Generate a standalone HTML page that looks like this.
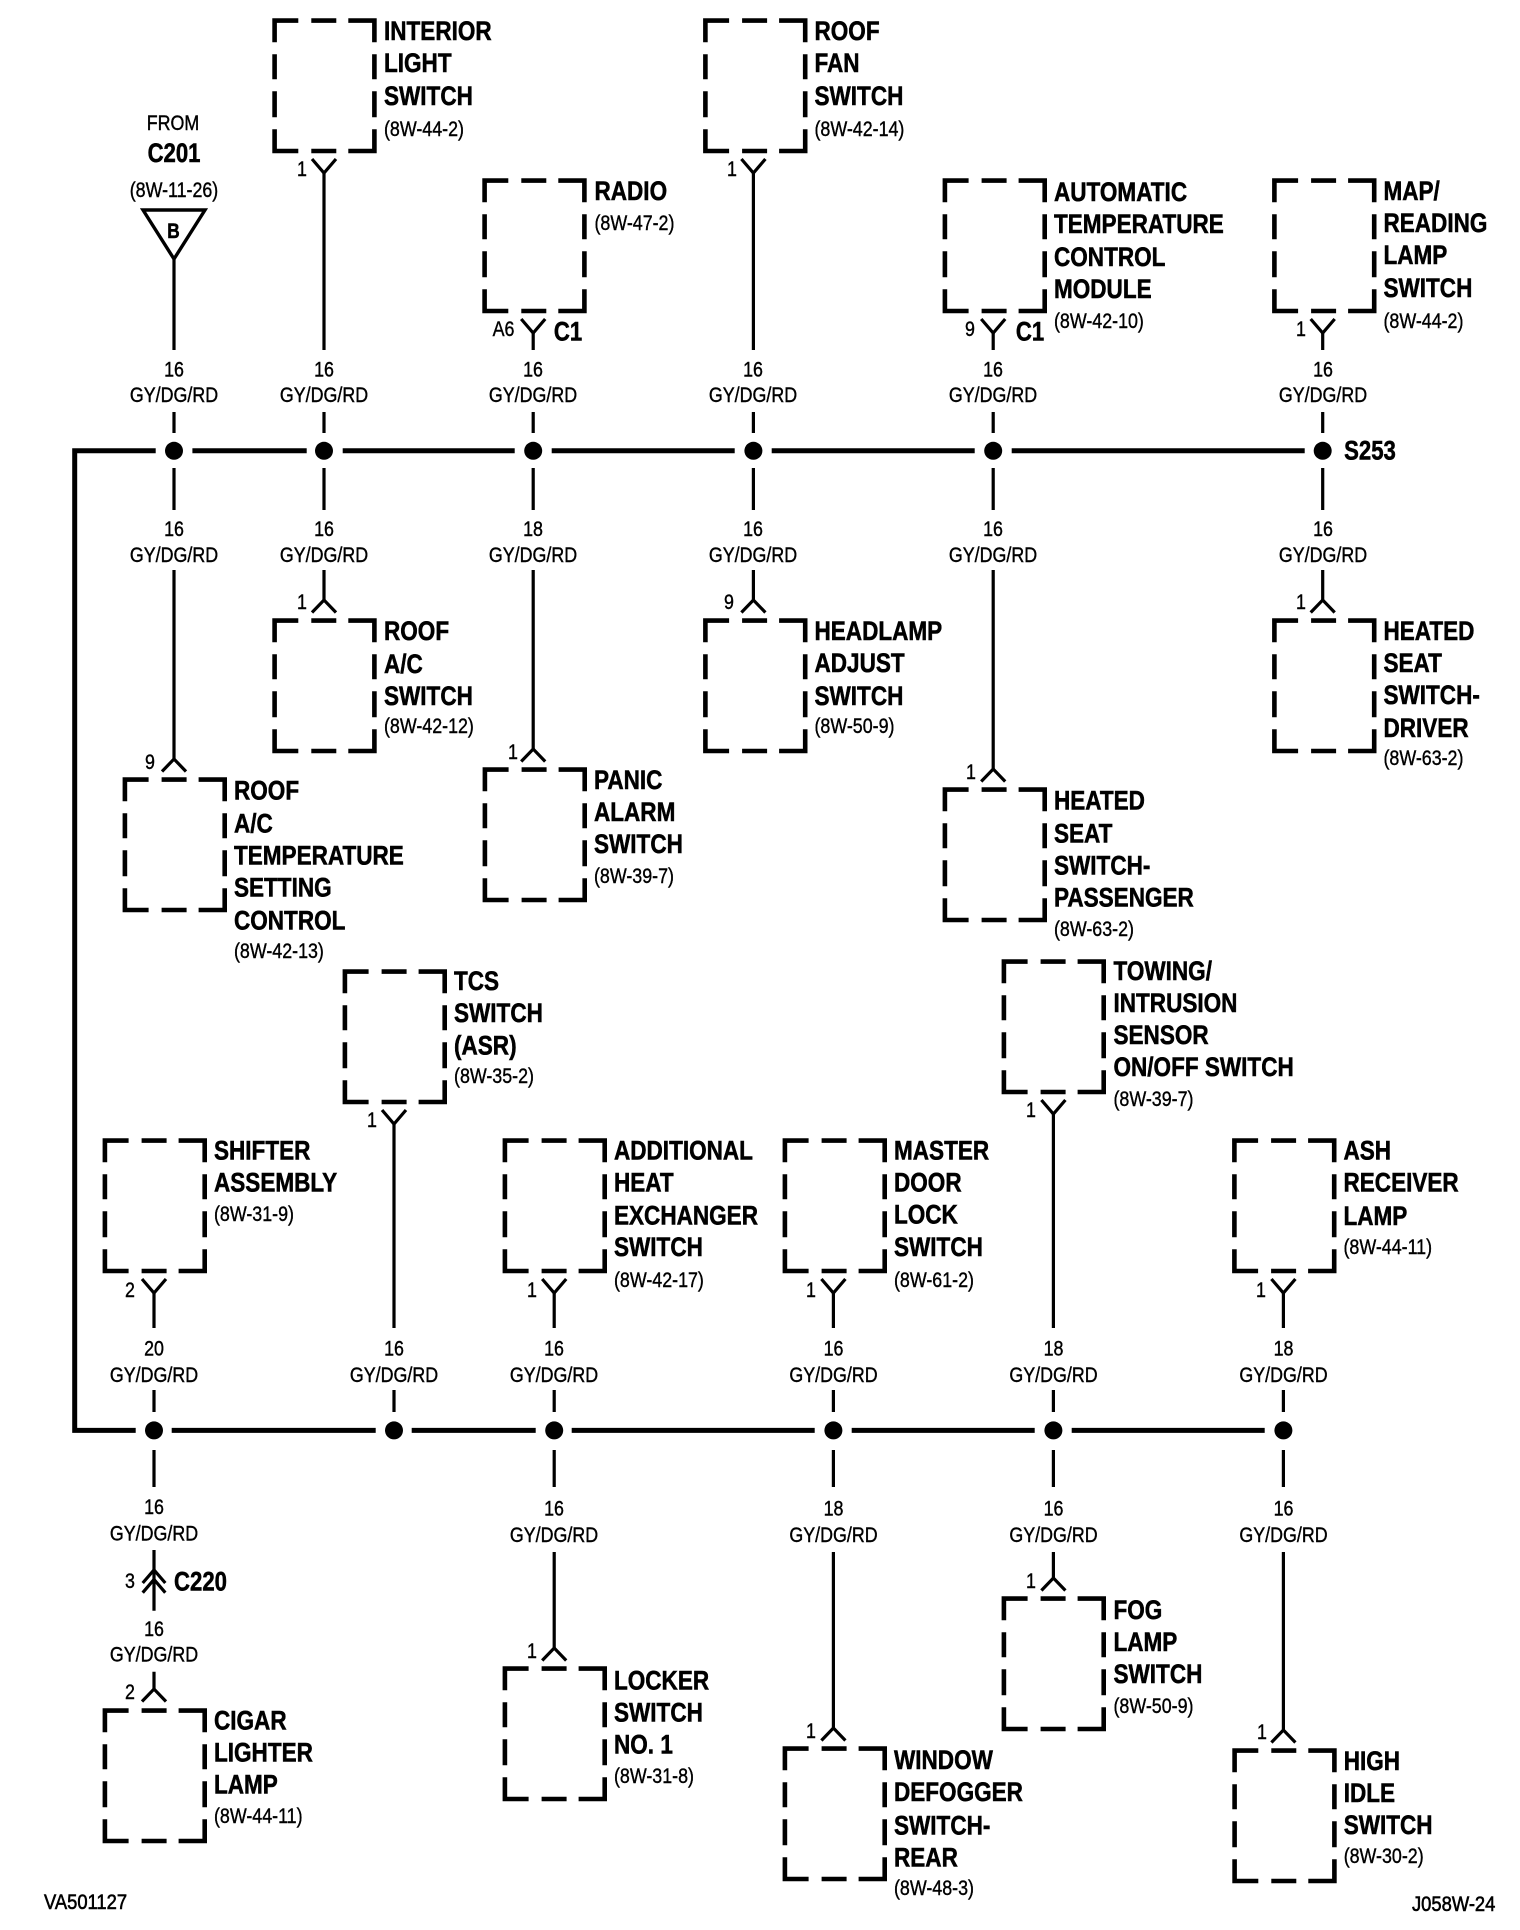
<!DOCTYPE html>
<html><head><meta charset="utf-8"><title>Wiring diagram</title>
<style>
html,body{margin:0;padding:0;background:#fff}
svg{display:block}
text{font-family:"Liberation Sans",sans-serif;fill:#000}
.b{font-size:27px;font-weight:bold;stroke:#000;stroke-width:.55px;transform-box:fill-box;transform-origin:0 50%;transform:translateY(-.8px) scaleX(.835)}
.r{font-size:21px;stroke:#000;stroke-width:.4px;transform-box:fill-box;transform-origin:0 50%;transform:scaleX(.85)}
.c{font-size:21px;text-anchor:middle;stroke:#000;stroke-width:.4px;transform-box:fill-box;transform-origin:50% 50%;transform:scaleX(.85)}
.bc{font-size:27px;font-weight:bold;text-anchor:middle;stroke:#000;stroke-width:.55px;transform-box:fill-box;transform-origin:50% 50%;transform:scaleX(.82)}
</style></head><body>
<svg xmlns="http://www.w3.org/2000/svg" width="1520" height="1930" viewBox="0 0 1520 1930">
<defs>
<path id="box" fill="none" stroke="#000" stroke-width="4.6" d="M2.3 24V2.3H26M39 2.3H64M76 2.3H102.1V24M2.3 36V61M102.1 36V61M2.3 73V99M102.1 73V99M2.3 111V132.7H26M39 132.7H64M76 132.7H102.1V111"/>
<path id="yo" fill="none" stroke="#000" stroke-width="3.2" d="M-12 -14L0 0L12 -14"/>
<path id="yi" fill="none" stroke="#000" stroke-width="3.2" d="M-12 12.5L0 0L12 12.5"/>
</defs>
<rect width="1520" height="1930" fill="#fff"/>

<!-- buses -->
<g transform="translate(.7 .8)">
<g fill="none" stroke="#000" stroke-width="5">
<path d="M155 450H74V1429.6H135"/>
<path d="M191.7 450H306M342 450H514M551 450H734M771 450H974M1011 450H1304"/>
<path d="M171 1429.6H375M411 1429.6H535M571 1429.6H814M851 1429.6H1034M1071 1429.6H1264"/>
</g>
<g fill="#000">
<circle cx="173.3" cy="450" r="9"/><circle cx="323.3" cy="450" r="9"/><circle cx="532.5" cy="450" r="9"/><circle cx="752.7" cy="450" r="9"/><circle cx="992.5" cy="450" r="9"/><circle cx="1322" cy="450" r="9"/>
<circle cx="153.3" cy="1429.6" r="9"/><circle cx="393.3" cy="1429.6" r="9"/><circle cx="553.5" cy="1429.6" r="9"/><circle cx="832.7" cy="1429.6" r="9"/><circle cx="1052.7" cy="1429.6" r="9"/><circle cx="1282.7" cy="1429.6" r="9"/>
</g>
</g>

<!-- wires and connectors -->
<g transform="translate(.7 0)">
<g fill="none" stroke="#000" stroke-width="3.2">
<path d="M173.3 259V350M173.3 412V433M173.3 468V510M173.3 570V759"/>
<path d="M323.3 173V350M323.3 412V433M323.3 468V510M323.3 570V600"/>
<path d="M532.5 333V350M532.5 412V433M532.5 468V510M532.5 570V749"/>
<path d="M752.7 173V350M752.7 412V433M752.7 468V510M752.7 570V600"/>
<path d="M992.5 333V350M992.5 412V433M992.5 468V510M992.5 570V769"/>
<path d="M1322 333V350M1322 412V433M1322 468V510M1322 570V600"/>
<path d="M153.3 1293V1328M153.3 1390V1412M153.3 1450V1487M153.3 1550V1610.7M153.3 1671.7V1689"/>
<path d="M393.3 1124V1328M393.3 1390V1412"/>
<path d="M553.5 1293V1328M553.5 1390V1412M553.5 1450V1487M553.5 1552V1648"/>
<path d="M832.7 1293V1328M832.7 1390V1412M832.7 1450V1487M832.7 1552V1728"/>
<path d="M1052.7 1114V1328M1052.7 1390V1412M1052.7 1450V1487M1052.7 1552V1578"/>
<path d="M1282.7 1293V1328M1282.7 1390V1412M1282.7 1450V1487M1282.7 1552V1730"/>
<path d="M142 1583L153.3 1570L164.6 1583M142 1592.7L153.3 1579.5L164.6 1592.7"/>
</g>
<use href="#yo" x="323.3" y="173"/><use href="#yo" x="532.5" y="333"/><use href="#yo" x="752.7" y="173"/><use href="#yo" x="992.5" y="333"/><use href="#yo" x="1322" y="333"/>
<use href="#yo" x="153.3" y="1293"/><use href="#yo" x="393.3" y="1124"/><use href="#yo" x="553.5" y="1293"/><use href="#yo" x="832.7" y="1293"/><use href="#yo" x="1052.7" y="1114"/><use href="#yo" x="1282.7" y="1293"/>
<use href="#yi" x="173.3" y="759"/><use href="#yi" x="323.3" y="600"/><use href="#yi" x="532.5" y="749"/><use href="#yi" x="752.7" y="600"/><use href="#yi" x="992.5" y="769"/><use href="#yi" x="1322" y="600"/>
<use href="#yi" x="153.3" y="1689"/><use href="#yi" x="553.5" y="1648"/><use href="#yi" x="832.7" y="1728"/><use href="#yi" x="1052.7" y="1578"/><use href="#yi" x="1282.7" y="1730"/>
</g>
<path d="M143 210H205L174 259Z" fill="none" stroke="#000" stroke-width="3.4"/>

<!-- boxes -->
<g transform="translate(-.4 -.7)">
<use href="#box" x="272.7" y="19"/><use href="#box" x="482.7" y="179"/><use href="#box" x="703.5" y="19"/><use href="#box" x="943" y="179"/><use href="#box" x="1272.5" y="179"/>
<use href="#box" x="272.7" y="619"/><use href="#box" x="703.5" y="619"/><use href="#box" x="1272.5" y="619"/><use href="#box" x="123" y="778"/><use href="#box" x="483" y="768"/><use href="#box" x="943" y="788"/>
<use href="#box" x="343" y="970"/><use href="#box" x="1002" y="960"/><use href="#box" x="103" y="1139"/><use href="#box" x="503" y="1139"/><use href="#box" x="783" y="1139"/><use href="#box" x="1232.5" y="1139"/>
<use href="#box" x="103" y="1709"/><use href="#box" x="503" y="1667"/><use href="#box" x="783" y="1747"/><use href="#box" x="1002" y="1597"/><use href="#box" x="1232.7" y="1749"/>
</g>

<!-- source -->
<text class="c" x="173" y="130">FROM</text>
<text class="bc" x="174" y="162">C201</text>
<text class="c" x="174" y="197">(8W-11-26)</text>
<text class="bc" x="173.5" y="238" style="font-size:21px">B</text>
<text class="bc" x="1370" y="459.5">S253</text>
<text class="bc" x="568" y="340.7">C1</text>
<text class="bc" x="1030" y="340.7">C1</text>
<text class="bc" x="200.5" y="1590.7">C220</text>

<!-- pin numbers -->
<text class="c" x="302" y="176">1</text><text class="c" x="503.5" y="336">A6</text><text class="c" x="732" y="176">1</text><text class="c" x="970" y="336">9</text><text class="c" x="1301" y="336">1</text>
<text class="c" x="302" y="609">1</text><text class="c" x="729" y="609">9</text><text class="c" x="1301" y="609">1</text><text class="c" x="150" y="769">9</text><text class="c" x="513" y="759">1</text><text class="c" x="971" y="779">1</text>
<text class="c" x="372" y="1127">1</text><text class="c" x="1031" y="1117">1</text><text class="c" x="130" y="1297">2</text><text class="c" x="532" y="1297">1</text><text class="c" x="811" y="1297">1</text><text class="c" x="1261" y="1297">1</text>
<text class="c" x="130" y="1588">3</text><text class="c" x="130" y="1699">2</text><text class="c" x="532" y="1658">1</text><text class="c" x="811" y="1738">1</text><text class="c" x="1031" y="1588">1</text><text class="c" x="1262" y="1739">1</text>

<!-- wire labels: upper bus, above -->
<text class="c" x="174" y="376.7">16</text><text class="c" x="174" y="402">GY/DG/RD</text>
<text class="c" x="324" y="376.7">16</text><text class="c" x="324" y="402">GY/DG/RD</text>
<text class="c" x="533" y="376.7">16</text><text class="c" x="533" y="402">GY/DG/RD</text>
<text class="c" x="753" y="376.7">16</text><text class="c" x="753" y="402">GY/DG/RD</text>
<text class="c" x="993" y="376.7">16</text><text class="c" x="993" y="402">GY/DG/RD</text>
<text class="c" x="1323" y="376.7">16</text><text class="c" x="1323" y="402">GY/DG/RD</text>
<!-- upper bus, below -->
<text class="c" x="174" y="536">16</text><text class="c" x="174" y="562">GY/DG/RD</text>
<text class="c" x="324" y="536">16</text><text class="c" x="324" y="562">GY/DG/RD</text>
<text class="c" x="533" y="536">18</text><text class="c" x="533" y="562">GY/DG/RD</text>
<text class="c" x="753" y="536">16</text><text class="c" x="753" y="562">GY/DG/RD</text>
<text class="c" x="993" y="536">16</text><text class="c" x="993" y="562">GY/DG/RD</text>
<text class="c" x="1323" y="536">16</text><text class="c" x="1323" y="562">GY/DG/RD</text>
<!-- lower bus, above -->
<text class="c" x="154" y="1355.5">20</text><text class="c" x="154" y="1382">GY/DG/RD</text>
<text class="c" x="394" y="1355.5">16</text><text class="c" x="394" y="1382">GY/DG/RD</text>
<text class="c" x="554" y="1355.5">16</text><text class="c" x="554" y="1382">GY/DG/RD</text>
<text class="c" x="833.5" y="1355.5">16</text><text class="c" x="833.5" y="1382">GY/DG/RD</text>
<text class="c" x="1053.5" y="1355.5">18</text><text class="c" x="1053.5" y="1382">GY/DG/RD</text>
<text class="c" x="1283.5" y="1355.5">18</text><text class="c" x="1283.5" y="1382">GY/DG/RD</text>
<!-- lower bus, below -->
<text class="c" x="154" y="1514">16</text><text class="c" x="154" y="1540.7">GY/DG/RD</text>
<text class="c" x="554" y="1515.5">16</text><text class="c" x="554" y="1542">GY/DG/RD</text>
<text class="c" x="833.5" y="1515.5">18</text><text class="c" x="833.5" y="1542">GY/DG/RD</text>
<text class="c" x="1053.5" y="1515.5">16</text><text class="c" x="1053.5" y="1542">GY/DG/RD</text>
<text class="c" x="1283.5" y="1515.5">16</text><text class="c" x="1283.5" y="1542">GY/DG/RD</text>
<text class="c" x="154" y="1636">16</text><text class="c" x="154" y="1661.7">GY/DG/RD</text>

<!-- component labels -->
<text class="b" x="384" y="41">INTERIOR</text><text class="b" x="384" y="73">LIGHT</text><text class="b" x="384" y="106">SWITCH</text><text class="r" x="384" y="136">(8W-44-2)</text>
<text class="b" x="594.5" y="201">RADIO</text><text class="r" x="594.5" y="230">(8W-47-2)</text>
<text class="b" x="814.5" y="41">ROOF</text><text class="b" x="814.5" y="73">FAN</text><text class="b" x="814.5" y="106">SWITCH</text><text class="r" x="814.5" y="136">(8W-42-14)</text>
<text class="b" x="1054" y="202">AUTOMATIC</text><text class="b" x="1054" y="234">TEMPERATURE</text><text class="b" x="1054" y="267">CONTROL</text><text class="b" x="1054" y="299">MODULE</text><text class="r" x="1054" y="328">(8W-42-10)</text>
<text class="b" x="1383.5" y="201">MAP/</text><text class="b" x="1383.5" y="233">READING</text><text class="b" x="1383.5" y="265">LAMP</text><text class="b" x="1383.5" y="298">SWITCH</text><text class="r" x="1383.5" y="328">(8W-44-2)</text>
<text class="b" x="384" y="641">ROOF</text><text class="b" x="384" y="674">A/C</text><text class="b" x="384" y="706">SWITCH</text><text class="r" x="384" y="733">(8W-42-12)</text>
<text class="b" x="814.5" y="641">HEADLAMP</text><text class="b" x="814.5" y="673">ADJUST</text><text class="b" x="814.5" y="706">SWITCH</text><text class="r" x="814.5" y="733">(8W-50-9)</text>
<text class="b" x="1383.5" y="641">HEATED</text><text class="b" x="1383.5" y="673">SEAT</text><text class="b" x="1383.5" y="705">SWITCH-</text><text class="b" x="1383.5" y="738">DRIVER</text><text class="r" x="1383.5" y="765">(8W-63-2)</text>
<text class="b" x="234" y="800.5">ROOF</text><text class="b" x="234" y="833.5">A/C</text><text class="b" x="234" y="865.5">TEMPERATURE</text><text class="b" x="234" y="897.5">SETTING</text><text class="b" x="234" y="930.5">CONTROL</text><text class="r" x="234" y="958">(8W-42-13)</text>
<text class="b" x="594" y="790">PANIC</text><text class="b" x="594" y="822">ALARM</text><text class="b" x="594" y="854">SWITCH</text><text class="r" x="594" y="883">(8W-39-7)</text>
<text class="b" x="1054" y="810.5">HEATED</text><text class="b" x="1054" y="843.5">SEAT</text><text class="b" x="1054" y="875.5">SWITCH-</text><text class="b" x="1054" y="907.5">PASSENGER</text><text class="r" x="1054" y="936">(8W-63-2)</text>
<text class="b" x="454" y="991">TCS</text><text class="b" x="454" y="1023">SWITCH</text><text class="b" x="454" y="1055.5">(ASR)</text><text class="r" x="454" y="1083">(8W-35-2)</text>
<text class="b" x="1113.5" y="981">TOWING/</text><text class="b" x="1113.5" y="1013">INTRUSION</text><text class="b" x="1113.5" y="1045">SENSOR</text><text class="b" x="1113.5" y="1077">ON/OFF SWITCH</text><text class="r" x="1113.5" y="1106">(8W-39-7)</text>
<text class="b" x="214" y="1160.5">SHIFTER</text><text class="b" x="214" y="1192.5">ASSEMBLY</text><text class="r" x="214" y="1221">(8W-31-9)</text>
<text class="b" x="614" y="1160.5">ADDITIONAL</text><text class="b" x="614" y="1192.5">HEAT</text><text class="b" x="614" y="1225.5">EXCHANGER</text><text class="b" x="614" y="1257">SWITCH</text><text class="r" x="614" y="1287">(8W-42-17)</text>
<text class="b" x="894" y="1160.5">MASTER</text><text class="b" x="894" y="1192.5">DOOR</text><text class="b" x="894" y="1224.5">LOCK</text><text class="b" x="894" y="1257">SWITCH</text><text class="r" x="894" y="1287">(8W-61-2)</text>
<text class="b" x="1343.5" y="1160.5">ASH</text><text class="b" x="1343.5" y="1192.5">RECEIVER</text><text class="b" x="1343.5" y="1226">LAMP</text><text class="r" x="1343.5" y="1254">(8W-44-11)</text>
<text class="b" x="214" y="1730.5">CIGAR</text><text class="b" x="214" y="1762.5">LIGHTER</text><text class="b" x="214" y="1794.5">LAMP</text><text class="r" x="214" y="1823">(8W-44-11)</text>
<text class="b" x="614" y="1690.5">LOCKER</text><text class="b" x="614" y="1722.5">SWITCH</text><text class="b" x="614" y="1754.5">NO. 1</text><text class="r" x="614" y="1783">(8W-31-8)</text>
<text class="b" x="894" y="1770">WINDOW</text><text class="b" x="894" y="1802">DEFOGGER</text><text class="b" x="894" y="1835.5">SWITCH-</text><text class="b" x="894" y="1867.5">REAR</text><text class="r" x="894" y="1895">(8W-48-3)</text>
<text class="b" x="1113.5" y="1620">FOG</text><text class="b" x="1113.5" y="1652">LAMP</text><text class="b" x="1113.5" y="1684">SWITCH</text><text class="r" x="1113.5" y="1713">(8W-50-9)</text>
<text class="b" x="1343.7" y="1771">HIGH</text><text class="b" x="1343.7" y="1803">IDLE</text><text class="b" x="1343.7" y="1835">SWITCH</text><text class="r" x="1343.7" y="1863">(8W-30-2)</text>

<text class="r" x="44" y="1909" style="stroke-width:.6px;transform:scaleX(.875)">VA501127</text>
<text class="r" x="1412" y="1911" style="stroke-width:.6px;transform:scaleX(.875)">J058W-24</text>
</svg>
</body></html>
